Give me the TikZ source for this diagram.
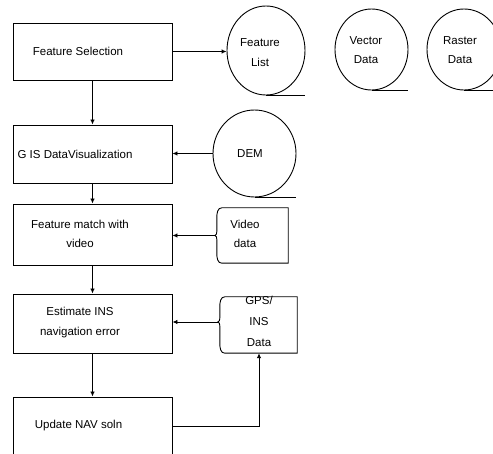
\documentclass[tikz,border=0pt]{standalone}
\usepackage{fontspec}
\setmainfont{Liberation Sans}
\usetikzlibrary{shapes.geometric,arrows.meta}
\tikzset{
  procbox/.style={draw, line width=0.9pt, minimum width=159pt, inner sep=0pt},
  store/.style={draw, ellipse, line width=0.9pt, inner sep=0pt},
  txt/.style={align=center, inner sep=0pt, font=\fontsize{11.5}{19.5}\selectfont},
  flow/.style={line width=0.9pt, -{Latex[length=5pt,width=4.5pt]}},
  edge/.style={line width=0.9pt},
}
\begin{document}
\begin{tikzpicture}[x=1pt,y=-1pt]
\useasboundingbox (0,0) rectangle (493,454);
\clip (0,0) rectangle (493,454);
% process boxes
\node[procbox, minimum height=57pt] (b1) at (92.5,51.5) {};
\node[procbox, minimum height=58pt] (b2) at (92.5,154) {};
\node[procbox, minimum height=61pt] (b3) at (92.5,234.5) {};
\node[procbox, minimum height=59pt] (b4) at (92.5,323.5) {};
\node[procbox, minimum height=74pt] (b5) at (92.5,434) {};
% box texts
\node[txt] (t1) at (78,51) {Feature Selection};
\node[txt] (t2) at (75,154) {G IS DataVisualization};
\node[txt] (t3) at (80,234) {Feature match with\\video};
\node[txt] (t4) at (80,322.5) {Estimate INS\\navigation error};
\node[txt] (t5) at (78.5,426) {Update NAV soln};
% data stores
\node[store, minimum width=78pt, minimum height=89pt] (fl) at (266,50.5) {};
\node[store, minimum width=73pt, minimum height=81pt] (vec) at (371.5,49.5) {};
\node[store, minimum width=74pt, minimum height=81pt] (ras) at (464,49.5) {};
\node[store, minimum width=83pt, minimum height=87pt] (dem) at (254.5,153.5) {};
\draw[edge] (fl.south) -- (fl.east |- fl.south);
\draw[edge] (vec.south) -- (vec.east |- vec.south);
\draw[edge] (ras.south) -- (ras.east |- ras.south);
\draw[edge] (dem.south) -- (dem.east |- dem.south);
\node[txt] (tfl) at (260,52.5) {Feature\\List};
\node[txt] (tvec) at (366,50) {Vector\\Data};
\node[txt] (tras) at (460,50) {Raster\\Data};
\node[txt] (tdem) at (250,154) {DEM};
% brace-sided data shapes
\node[minimum width=66pt, minimum height=55pt, inner sep=0pt] (vid) at (255,235.5) {};
\draw[edge] (vid.north west) -- (vid.north east) -- (vid.south east) -- (vid.south west)
  to[out=180,in=-90] ([xshift=-5pt,yshift=10pt]vid.west |- vid.south)
  -- ([xshift=-5pt,yshift=-4pt]vid.west)
  to[out=90,in=0] ([xshift=-7pt]vid.west) coordinate (vidL)
  to[out=0,in=-90] ([xshift=-5pt,yshift=4pt]vid.west)
  -- ([xshift=-5pt,yshift=-10pt]vid.west |- vid.north)
  to[out=90,in=180] (vid.north west);
\node[txt] (tvid) at (245,234) {Video\\data};
\node[minimum width=72pt, minimum height=56pt, inner sep=0pt] (gps) at (261,325) {};
\draw[edge] (gps.north west) -- (gps.north east) -- (gps.south east) -- (gps.south west)
  to[out=180,in=-90] ([xshift=-5pt,yshift=10pt]gps.west |- gps.south)
  -- ([xshift=-5pt,yshift=-1pt]gps.west)
  to[out=90,in=0] ([xshift=-7pt,yshift=3pt]gps.west) coordinate (gpsL)
  to[out=0,in=-90] ([xshift=-5pt,yshift=7pt]gps.west)
  -- ([xshift=-5pt,yshift=-10pt]gps.west |- gps.north)
  to[out=90,in=180] (gps.north west);
\node[txt, font=\fontsize{11.5}{21}\selectfont] (tgps) at (259,321.5) {GPS/\\INS\\Data};
% connectors
\draw[flow] (b1.east) -- (fl.west |- b1.east);
\draw[flow] (b1.south) -- (b2.north);
\draw[flow] (dem.west) -- (b2.east |- dem.west);
\draw[flow] (b2.south) -- (b3.north);
\draw[flow] (vidL) -- (b3.east |- vidL);
\draw[flow] (b3.south) -- (b4.north);
\draw[flow] (gpsL) -- (b4.east |- gpsL);
\draw[flow] (b4.south) -- (b5.north);
\coordinate (bend) at (259,426);
\draw[flow] (b5.east |- bend) -- (bend) -- (bend |- gps.south);
\end{tikzpicture}
\end{document}
